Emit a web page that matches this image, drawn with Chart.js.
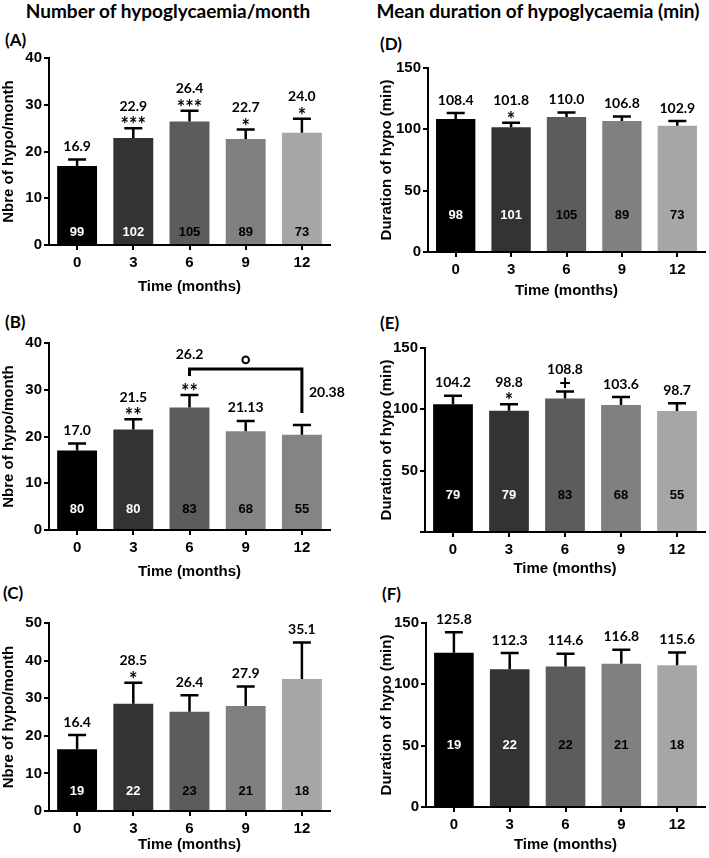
<!DOCTYPE html>
<html>
<head>
<meta charset="utf-8">
<script src="https://cdn.jsdelivr.net/npm/chart.js@4.4.1/dist/chart.umd.min.js"></script>
<style>
body { margin: 0; background: #fff; }
#wrap { position: relative; width: 709px; height: 858px; overflow: hidden; background: #fff; }
canvas { position: absolute; }
.hd { position: absolute; font-family: Lato, sans-serif; font-weight: bold; color: #000; white-space: nowrap; }
.pl { position: absolute; font-family: Lato, sans-serif; font-weight: bold; color: #000; font-size: 17px; line-height: 20px; }
</style>
</head>
<body>
<div id="wrap">
  <div class="hd" style="left:0;width:336px;text-align:center;top:0;font-size:19px;line-height:22px">Number of hypoglycaemia/month</div>
  <div class="hd" style="left:367px;width:342px;text-align:center;top:0;font-size:19px;line-height:22px">Mean duration of hypoglycaemia (min)</div>
  <div class="pl" style="left:5px;top:30px">(A)</div>
  <div class="pl" style="left:5px;top:312px">(B)</div>
  <div class="pl" style="left:3px;top:583px">(C)</div>
  <div class="pl" style="left:380px;top:34px">(D)</div>
  <div class="pl" style="left:380px;top:313px">(E)</div>
  <div class="pl" style="left:382px;top:584px">(F)</div>
  <canvas id="cA"></canvas>
  <canvas id="cB"></canvas>
  <canvas id="cC"></canvas>
  <canvas id="cD"></canvas>
  <canvas id="cE"></canvas>
  <canvas id="cF"></canvas>
</div>
<script>
// time points (months)
const months = ['0', '3', '6', '9', '12'];

// (A) number of hypos / month, whole cohort
const hypoA = [16.9, 22.9, 26.4, 22.7, 24.0];
const semA = [1.4, 2.1, 2.3, 2.0, 3.0];
const nA = [99, 102, 105, 89, 73];
const sigA = ['', '***', '***', '*', '*'];

// (B)
const hypoB = [17.0, 21.5, 26.2, 21.13, 20.38];
const semB = [1.5, 2.2, 2.7, 2.2, 2.1];
const nB = [80, 80, 83, 68, 55];
const sigB = ['', '**', '**', '', ''];

// (C)
const hypoC = [16.4, 28.5, 26.4, 27.9, 35.1];
const semC = [3.8, 5.6, 4.4, 5.2, 9.7];
const nC = [19, 22, 23, 21, 18];
const sigC = ['', '*', '', '', ''];

// (D) mean duration (min)
const durD = [108.4, 101.8, 110.0, 106.8, 102.9];
const semD = [4.9, 3.6, 3.8, 3.7, 3.9];
const nD = [98, 101, 105, 89, 73];
const sigD = ['', '*', '', '', ''];

// (E)
const durE = [104.2, 98.8, 108.8, 103.6, 98.7];
const semE = [6.8, 5.4, 5.8, 6.4, 6.3];
const nE = [79, 79, 83, 68, 55];
const sigE = ['', '*', '+', '', ''];

// (F)
const durF = [125.8, 112.3, 114.6, 116.8, 115.6];
const semF = [16.6, 13.2, 10.4, 11.4, 10.4];
const nF = [19, 22, 22, 21, 18];
const sigF = ['', '', '', '', ''];

const greys = ['#000000', '#333333', '#5c5c5c', '#808080', '#a6a6a6'];
const greysB = ['#000000', '#333333', '#5c5c5c', '#848484', '#848484'];

function fmt(v) {
    const s = String(v);
    return s.indexOf('.') >= 0 ? s : v.toFixed(1);
}

// error bars, n inside bars, values and stars above
const annotPlugin = {
    id: 'annot',
    afterDatasetsDraw(chart, args, o) {
        const ctx = chart.ctx;
        const y = chart.scales.y;
        const bars = chart.getDatasetMeta(0).data;
        const vals = chart.data.datasets[0].data;
        const tops = [];
        ctx.save();
        bars.forEach((b, i) => {
            const top = y.getPixelForValue(vals[i] + o.sem[i]);
            tops.push(top);
            ctx.strokeStyle = '#000';
            ctx.lineWidth = 2.5;
            ctx.beginPath();
            ctx.moveTo(b.x, b.y);
            ctx.lineTo(b.x, top);
            ctx.moveTo(b.x - 9, top);
            ctx.lineTo(b.x + 9, top);
            ctx.stroke();
            ctx.font = 'bold 13px "Liberation Sans"';
            ctx.textAlign = 'center';
            ctx.textBaseline = 'middle';
            ctx.fillStyle = i < 2 ? '#fff' : '#000';
            ctx.fillText(String(o.n[i]), b.x, y.getPixelForValue(o.countAt));
        });

        const br = o.bracket;
        let bY = 0;
        if (br) {
            bY = Math.min.apply(null, tops.slice(br.from, br.to + 1)) - 26;
            const x1 = bars[br.from].x, x2 = bars[br.to].x;
            ctx.lineWidth = 3;
            ctx.beginPath();
            ctx.moveTo(x1, bY + 7);
            ctx.lineTo(x1, bY);
            ctx.lineTo(x2, bY);
            ctx.lineTo(x2, tops[br.to] - 12);
            ctx.stroke();
            ctx.lineWidth = 2;
            ctx.beginPath();
            ctx.arc((x1 + x2) / 2, bY - 9, 3.3, 0, Math.PI * 2);
            ctx.stroke();
        }

        ctx.fillStyle = '#000';
        ctx.textAlign = 'center';
        bars.forEach((b, i) => {
            const sig = o.sig[i];
            let ly = tops[i] - 13;
            let lx = b.x;
            if (sig) {
                ctx.font = 'bold 20px Lato';
                ctx.textBaseline = 'alphabetic';
                ctx.fillText(sig, b.x, tops[i] + (sig === '+' ? -1 : 4));
                ly = tops[i] - 22;
            }
            if (br && i === br.from) ly = bY - 14;
            if (br && i === br.to) { lx = b.x + 25; ly = bY + 24; }
            ctx.font = 'bold 14px Lato';
            ctx.textBaseline = 'middle';
            ctx.fillText(fmt(vals[i]), lx, ly);
        });
        ctx.restore();
    }
};

const tickFont = { family: 'Liberation Sans', weight: 'bold', size: 15 };

function panel(id, p) {
    const cv = document.getElementById(id);
    cv.width = p.cw;
    cv.height = p.ch;
    cv.style.left = p.cl + 'px';
    cv.style.top = p.ct + 'px';
    const yW = p.area[0] - p.cl;
    const padTop = p.area[1] - p.ct;
    const padRight = p.cl + p.cw - p.area[2];
    const xH = p.ct + p.ch - p.area[3];
    return new Chart(cv, {
        type: 'bar',
        data: {
            labels: months,
            datasets: [{
                data: p.data,
                backgroundColor: p.colors || greys,
                borderWidth: 0,
                barPercentage: 0.71,
                categoryPercentage: 1.0
            }]
        },
        options: {
            responsive: false,
            animation: false,
            events: [],
            layout: { padding: { top: padTop, right: padRight, bottom: 0, left: 0 } },
            plugins: {
                legend: { display: false },
                tooltip: { enabled: false },
                annot: { sem: p.sem, n: p.n, sig: p.sig, countAt: p.countAt, bracket: p.bracket }
            },
            scales: {
                x: {
                    grid: { offset: false, drawOnChartArea: false, drawTicks: true, tickLength: 5, color: '#000', lineWidth: 2 },
                    border: { display: true, color: '#000', width: 2 },
                    ticks: { color: '#000', font: tickFont, padding: 4, maxRotation: 0 },
                    title: { display: true, text: 'Time (months)', color: '#000', font: tickFont, padding: 0 },
                    afterFit: s => { s.height = xH; }
                },
                y: {
                    min: 0,
                    max: p.max,
                    grid: { drawOnChartArea: false, drawTicks: true, tickLength: 5, color: '#000', lineWidth: 2 },
                    border: { display: true, color: '#000', width: 2 },
                    ticks: {
                        color: '#000', font: tickFont, padding: 2, stepSize: p.step,
                        callback: v => (p.hideZero && v === 0) ? '' : v
                    },
                    title: { display: true, text: p.ytitle, color: '#000', font: tickFont, padding: 0 },
                    afterFit: s => { s.width = yW; }
                }
            }
        },
        plugins: [annotPlugin]
    });
}

const hypoTitle = 'Nbre of hypo/month';
const durTitle = 'Duration of hypo (min)';

panel('cA', { cl: 0, ct: 0, cw: 355, ch: 296, area: [49, 58, 330, 245], data: hypoA, sem: semA, n: nA, sig: sigA,
    max: 40, step: 10, ytitle: hypoTitle, countAt: 2.6 });
panel('cB', { cl: 0, ct: 300, cw: 355, ch: 281, area: [49, 343, 330, 530], data: hypoB, sem: semB, n: nB, sig: sigB,
    max: 40, step: 10, ytitle: hypoTitle, countAt: 4.4, colors: greysB, bracket: { from: 2, to: 4 } });
panel('cC', { cl: 0, ct: 585, cw: 355, ch: 269, area: [49, 623, 330, 811], data: hypoC, sem: semC, n: nC, sig: sigC,
    max: 50, step: 10, ytitle: hypoTitle, countAt: 5.1 });
panel('cD', { cl: 378, ct: 0, cw: 331, ch: 300, area: [428, 68, 705, 252], data: durD, sem: semD, n: nD, sig: sigD,
    max: 150, step: 50, ytitle: durTitle, countAt: 30 });
panel('cE', { cl: 378, ct: 300, cw: 331, ch: 278, area: [425, 348, 705, 532], data: durE, sem: semE, n: nE, sig: sigE,
    max: 150, step: 50, ytitle: durTitle, countAt: 30, hideZero: true });
panel('cF', { cl: 378, ct: 585, cw: 331, ch: 269, area: [426, 623, 705, 807], data: durF, sem: semF, n: nF, sig: sigF,
    max: 150, step: 50, ytitle: durTitle, countAt: 50.5 });
</script>
</body>
</html>
